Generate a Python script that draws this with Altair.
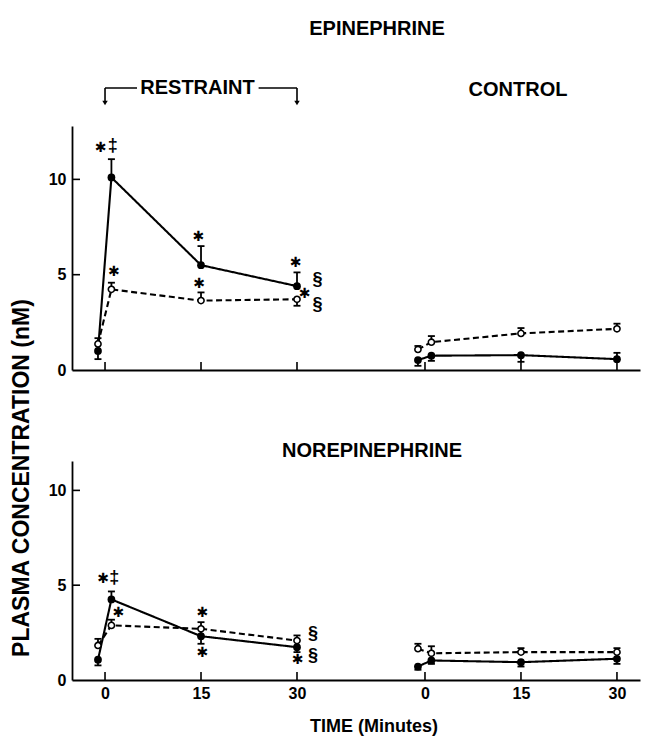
import altair as alt
import pandas as pd

# ---------------- data ----------------
times = [-1.1, 1, 15, 30]          # minutes (pre-value, 0, 15, 30)
control_offset = 50                # control panel placed to the right on the shared axis
x_tick_values = [0, 15, 30]
y_tick_values = [0, 5, 10]

# Epinephrine (nM): solid = filled circles, open = open circles
epi_restraint_solid = [1.0, 10.1, 5.5, 4.4]
epi_restraint_solid_up = [0, 0.96, 1.0, 0.72]
epi_restraint_solid_dn = [0.43, 0, 0, 0]
epi_restraint_open = [1.37, 4.23, 3.64, 3.71]
epi_restraint_open_up = [0.3, 0.35, 0.43, 0]
epi_restraint_open_dn = [0, 0, 0, 0.34]
epi_control_solid = [0.52, 0.75, 0.78, 0.57]
epi_control_solid_up = [0, 0, 0, 0.33]
epi_control_solid_dn = [0.3, 0.27, 0.35, 0]
epi_control_open = [1.08, 1.46, 1.92, 2.16]
epi_control_open_up = [0.18, 0.32, 0.28, 0.27]
epi_control_open_dn = [0, 0, 0, 0]

# Norepinephrine (nM)
ne_restraint_solid = [1.07, 4.25, 2.31, 1.73]
ne_restraint_solid_up = [0, 0.42, 0.4, 0]
ne_restraint_solid_dn = [0.3, 0, 0.4, 0.26]
ne_restraint_open = [1.82, 2.88, 2.7, 2.08]
ne_restraint_open_up = [0.35, 0.3, 0.35, 0.27]
ne_restraint_open_dn = [0, 0, 0, 0]
ne_control_solid = [0.71, 1.03, 0.94, 1.12]
ne_control_solid_up = [0, 0, 0, 0]
ne_control_solid_dn = [0.17, 0.18, 0.23, 0.27]
ne_control_open = [1.65, 1.41, 1.47, 1.47]
ne_control_open_up = [0.26, 0.37, 0.21, 0.21]
ne_control_open_dn = [0, 0, 0, 0]

# significance marks
epi_marks = ["✱", "‡", "✱", "✱", "✱", "✱", "✱", "§", "§"]
epi_mark_x = [-0.7, 1.2, 1.4, 14.6, 14.7, 29.8, 31.2, 33.2, 33.2]
epi_mark_y = [11.67, 11.75, 5.15, 7.0, 4.5, 5.6, 4.0, 4.72, 3.42]
ne_marks = ["✱", "‡", "✱", "✱", "✱", "✱", "§", "§"]
ne_mark_x = [-0.3, 1.45, 2.1, 15.2, 15.2, 30.1, 32.5, 32.5]
ne_mark_y = [5.32, 5.4, 3.55, 3.55, 1.41, 1.03, 2.44, 1.29]

restraint_period = [0, 30]

FONT = "Liberation Sans"
W = 568
X_DOMAIN = [-5.16, 83.6]


def build_frames(series):
    rows, errs = [], []
    for (group, kind), (mean, up, dn) in series.items():
        off = 0 if group == "R" else control_offset
        for t, m, u, d in zip(times, mean, up, dn):
            x = t + off
            rows.append(dict(group=group, series=kind, x=x, y=m))
            if u > 0:
                errs.append(dict(x=x, y1=m, y2=m + u, cap=m + u))
            if d > 0:
                errs.append(dict(x=x, y1=m - d, y2=m, cap=m - d))
    return pd.DataFrame(rows), pd.DataFrame(errs)


def panel(series, marks, mx, my, H, ymax, show_labels):
    df, err = build_frames(series)
    xscale = alt.Scale(domain=X_DOMAIN, nice=False, zero=False)
    yscale = alt.Scale(domain=[0, ymax], nice=False)
    all_ticks = [v + o for o in (0, control_offset) for v in x_tick_values]
    xaxis = alt.Axis(values=all_ticks, ticks=False, labels=show_labels, title=None, grid=False,
                     domainColor="black", domainWidth=1.8,
                     labelExpr="datum.value >= 40 ? datum.value - 50 : datum.value",
                     labelFont=FONT, labelFontWeight="bold", labelFontSize=16,
                     labelColor="black", labelPadding=5)
    yaxis = alt.Axis(values=y_tick_values, ticks=False, title=None, grid=False,
                     domainColor="black", domainWidth=1.8,
                     labelFont=FONT, labelFontWeight="bold", labelFontSize=16,
                     labelColor="black", labelPadding=6)

    def X(f):
        return alt.X(f, type="quantitative", scale=xscale, axis=xaxis)

    def Y(f):
        return alt.Y(f, type="quantitative", scale=yscale, axis=yaxis)

    base = alt.Chart(df)
    lines = base.mark_line(color="black", strokeWidth=2.1).encode(
        x=X("x"), y=Y("y"), detail="group:N",
        strokeDash=alt.StrokeDash("series:N", legend=None,
                                  scale=alt.Scale(domain=["solid", "open"], range=[[1, 0], [6, 3.5]])),
    )
    rules = alt.Chart(err).mark_rule(color="black", strokeWidth=1.8).encode(
        x=X("x"), y=Y("y1"), y2="y2:Q")
    caps = alt.Chart(err).mark_tick(color="black", orient="horizontal", size=7, thickness=1.8, opacity=1).encode(
        x=X("x"), y=Y("cap"))
    filled = base.transform_filter(alt.datum.series == "solid").mark_point(
        filled=True, color="black", size=60, opacity=1).encode(x=X("x"), y=Y("y"))
    hollow = base.transform_filter(alt.datum.series == "open").mark_point(
        filled=True, fill="white", stroke="black", strokeWidth=1.6, size=38, opacity=1).encode(x=X("x"), y=Y("y"))

    xt = alt.Chart(pd.DataFrame({"x": all_ticks})).mark_rule(color="black", strokeWidth=1.6).encode(
        x=X("x"), y=alt.value(H), y2=alt.value(H - 8))
    yt = alt.Chart(pd.DataFrame({"y": [v for v in y_tick_values if v > 0]})).mark_rule(
        color="black", strokeWidth=1.6).encode(y=Y("y"), x=alt.value(0), x2=alt.value(8))

    mdf = pd.DataFrame({"t": marks, "x": mx, "y": my})
    stars = alt.Chart(mdf).transform_filter(alt.datum.t == "✱").mark_text(
        font="DejaVu Sans", fontWeight="bold", fontSize=14, color="black").encode(
        x=X("x"), y=Y("y"), text="t:N")
    syms = alt.Chart(mdf).transform_filter(alt.datum.t != "✱").mark_text(
        font=FONT, fontWeight="bold", fontSize=18, color="black").encode(
        x=X("x"), y=Y("y"), text="t:N")

    return [lines, rules, caps, hollow, filled, xt, yt, stars, syms]


def label(text, x, y, size=20, angle=0):
    return alt.Chart(pd.DataFrame({"t": [text]})).mark_text(
        font=FONT, fontWeight="bold", fontSize=size, color="black", angle=angle,
        align="center", baseline="middle").encode(text="t:N", x=alt.value(x), y=alt.value(y))


epi_series = {
    ("R", "solid"): (epi_restraint_solid, epi_restraint_solid_up, epi_restraint_solid_dn),
    ("R", "open"): (epi_restraint_open, epi_restraint_open_up, epi_restraint_open_dn),
    ("C", "solid"): (epi_control_solid, epi_control_solid_up, epi_control_solid_dn),
    ("C", "open"): (epi_control_open, epi_control_open_up, epi_control_open_dn),
}
ne_series = {
    ("R", "solid"): (ne_restraint_solid, ne_restraint_solid_up, ne_restraint_solid_dn),
    ("R", "open"): (ne_restraint_open, ne_restraint_open_up, ne_restraint_open_dn),
    ("C", "solid"): (ne_control_solid, ne_control_solid_up, ne_control_solid_dn),
    ("C", "open"): (ne_control_open, ne_control_open_up, ne_control_open_dn),
}

H1, H2 = 244, 219
top_layers = panel(epi_series, epi_marks, epi_mark_x, epi_mark_y, H1, 12.8, False)

# restraint bracket
xs = alt.Scale(domain=X_DOMAIN, nice=False, zero=False)
br = pd.DataFrame({"x": restraint_period})
bracket_v = alt.Chart(br).mark_rule(color="black", strokeWidth=1.6).encode(
    x=alt.X("x:Q", scale=xs), y=alt.value(-38), y2=alt.value(-25))
bracket_h = alt.Chart(pd.DataFrame({"a": [restraint_period[0], 24.0], "b": [5.0, restraint_period[1]]})).mark_rule(
    color="black", strokeWidth=1.6).encode(x=alt.X("a:Q", scale=xs), x2="b:Q", y=alt.value(-38))
arrows = alt.Chart(br).mark_point(shape="triangle-down", filled=True, color="black", size=30, opacity=1).encode(
    x=alt.X("x:Q", scale=xs), y=alt.value(-23))

top = alt.layer(
    *top_layers, bracket_v, bracket_h, arrows,
    label("EPINEPHRINE", 305, -97.5),
    label("RESTRAINT", 125.5, -38.5),
    label("CONTROL", 446, -36),
    label("PLASMA CONCENTRATION (nM)", -50, 352, size=23, angle=270),
).properties(width=W, height=H1)

bottom_layers = panel(ne_series, ne_marks, ne_mark_x, ne_mark_y, H2, 11.55, True)
bottom = alt.layer(
    *bottom_layers,
    label("NOREPINEPHRINE", 300, -10),
    label("TIME (Minutes)", 302, 266, size=18),
).properties(width=W, height=H2)

chart = alt.vconcat(top, bottom, spacing=91, bounds="flush").properties(
    padding={"left": 3, "top": 10, "right": 5, "bottom": 2},
    background="white",
).configure_view(stroke=None)

chart.save("out.html", embed_options={"renderer": "svg", "actions": False})
